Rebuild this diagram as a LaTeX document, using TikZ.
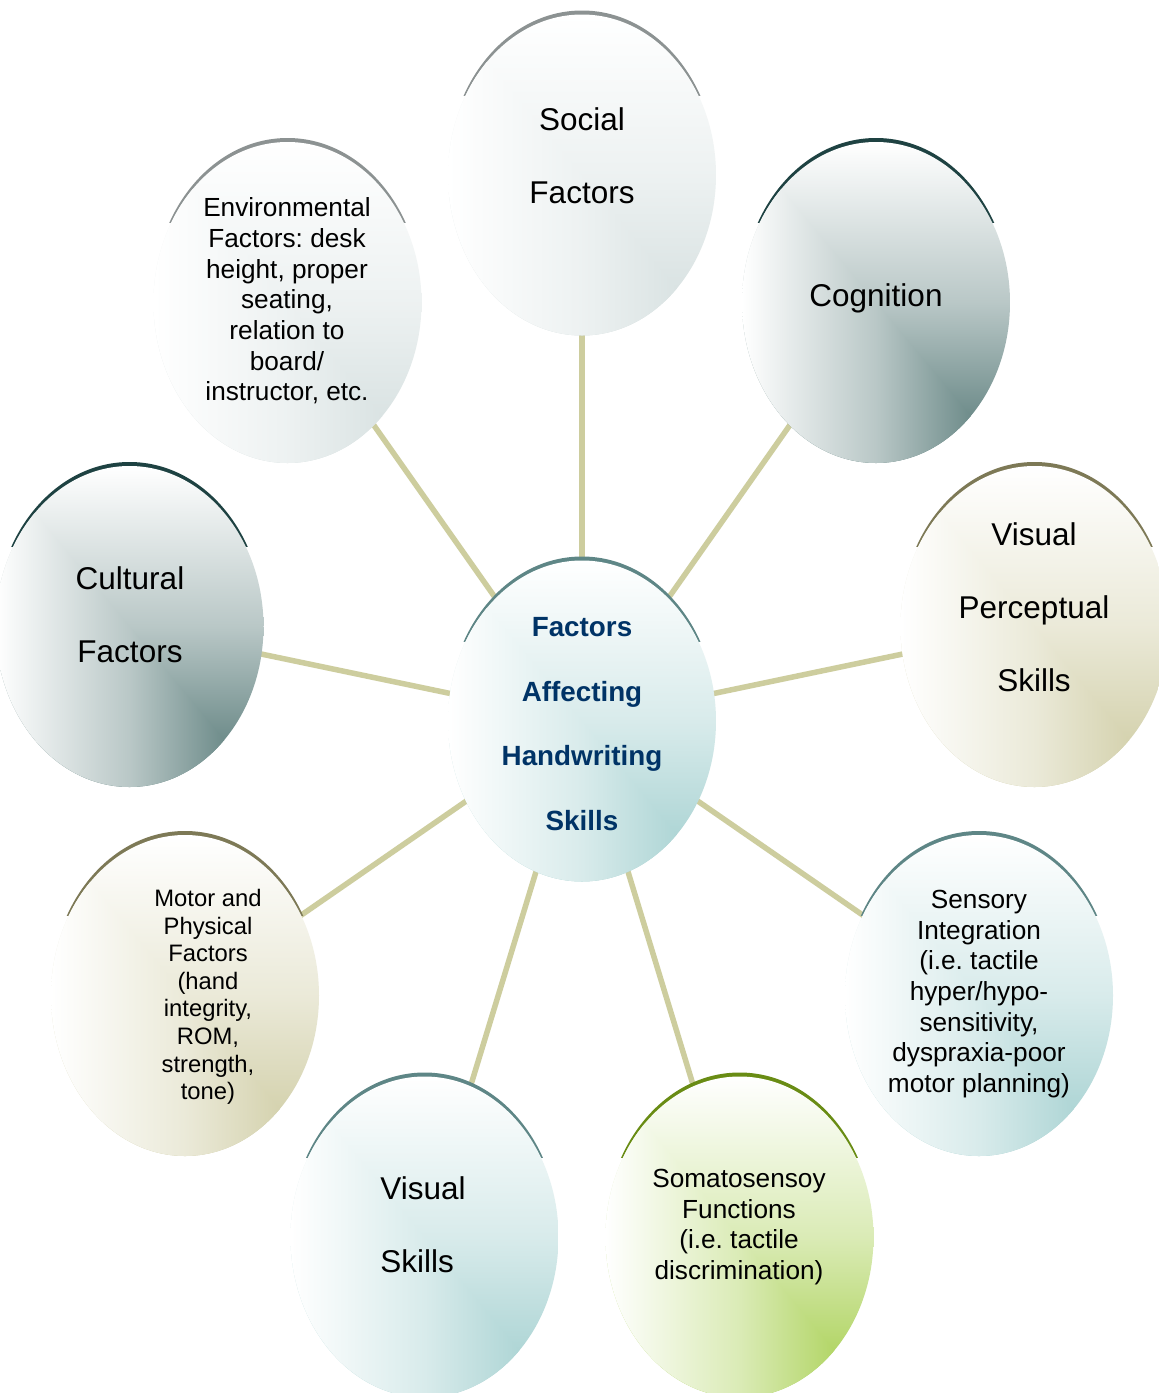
\documentclass[tikz,border=0pt]{standalone}
\usepackage{fontspec}
\setmainfont{Liberation Sans}
\usetikzlibrary{shapes.geometric}
\pgfdeclarelayer{background}
\pgfsetlayers{background,main}
\frenchspacing

\definecolor{fGray}{RGB}{210,221,221}
\definecolor{aGray}{RGB}{140,146,146}
\definecolor{fDark}{RGB}{80,116,114}
\definecolor{aDark}{RGB}{30,66,66}
\definecolor{fKhaki}{RGB}{204,201,158}
\definecolor{aKhaki}{RGB}{125,121,86}
\definecolor{fTeal}{RGB}{158,205,205}
\definecolor{aTeal}{RGB}{94,134,134}
\definecolor{fGreen}{RGB}{163,205,72}
\definecolor{aGreen}{RGB}{105,140,20}
\definecolor{connC}{RGB}{205,205,158}
\definecolor{navyC}{RGB}{0,51,102}

\tikzset{
  blobshape/.style={ellipse, minimum width=134pt, minimum height=160.5pt, inner sep=0pt, outer sep=0pt},
  conn/.style={draw=connC, line width=2.75pt, shorten <=-3pt, shorten >=-3pt},
  txtbig/.style={font=\fontsize{15.75}{36.5}\selectfont, align=center, inner sep=0pt},
  txtmid/.style={font=\fontsize{13.1}{15.35}\selectfont, align=center, inner sep=0pt},
  txtsmall/.style={font=\fontsize{11.9}{13.8}\selectfont, align=center, inner sep=0pt},
  txtcenter/.style={font=\bfseries\fontsize{13.9}{32.2}\selectfont, text=navyC, align=center, inner sep=0pt},
}

% #1 name, #2 cx, #3 cy (pixels, y down), #4 fill colour, #5 rim colour
\newcommand\blob[5]{%
  \begin{scope}
    \clip (#2-140,#3-170) rectangle (#2+140,#3-80);
    \fill[#5] (#2,#3-4) ellipse [x radius=134, y radius=160.5];
  \end{scope}
  \begin{scope}
    \clip (#2,#3) ellipse [x radius=134, y radius=160.5];
    \shade[top color=white, bottom color=#4, middle color=#4!40!white]
      (#2-134,#3-160.5) rectangle (#2+134,#3+160.5);
    \shade[left color=white, right color=#4, middle color=#4!40!white]
      (#2-134,#3-160.5) -- (#2+134,#3+160.5) -- (#2-134,#3+160.5) -- cycle;
  \end{scope}
  \node[blobshape] (#1) at (#2,#3) {};
}

\begin{document}
\begin{tikzpicture}[x=0.5pt, y=-0.5pt]
\useasboundingbox (0,0) rectangle (1159,1393);
\begin{pgfonlayer}{background}
  \fill[white] (0,0) rectangle (1159,1393);
\end{pgfonlayer}
\clip (0,0) rectangle (1159,1393);

\blob{social}{582}{175}{fGray}{aGray}
\blob{cognition}{876}{302.5}{fDark}{aDark}
\blob{environ}{287.5}{302.5}{fGray}{aGray}
\blob{cultural}{129.5}{626.5}{fDark}{aDark}
\blob{visperc}{1034.5}{626.5}{fKhaki}{aKhaki}
\blob{hub}{582}{721}{fTeal}{aTeal}
\blob{motor}{185}{995.5}{fKhaki}{aKhaki}
\blob{sensory}{979}{995.5}{fTeal}{aTeal}
\blob{visskills}{424.5}{1237}{fTeal}{aTeal}
\blob{soma}{739.5}{1237}{fGreen}{aGreen}

\node[txtbig] (socialT) at (582,155.5) {Social\\Factors};
\node[txtbig] (cognitionT) at (876,298.5) {Cognition};
\node[txtmid] (environT) at (287,301) {Environmental\\Factors: desk\\height, proper\\seating,\\relation to\\board/\\instructor, etc.};
\node[txtbig] (culturalT) at (130,614.5) {Cultural\\Factors};
\node[txtbig] (vispercT) at (1034,607.5) {Visual\\Perceptual\\Skills};
\node[txtcenter] (hubT) at (582,724) {Factors\\Affecting\\Handwriting\\Skills};
\node[txtsmall] (motorT) at (208,997) {Motor and\\Physical\\Factors\\(hand\\integrity,\\ROM,\\strength,\\tone)};
\node[txtmid] (sensoryT) at (979,994) {Sensory\\Integration\\(i.e. tactile\\hyper/hypo-\\sensitivity,\\dyspraxia-poor\\motor planning)};
\node[txtbig, align=left, anchor=west] (visskillsT) at (380,1224.5) {Visual\\Skills};
\node[txtmid] (somaT) at (739,1227) {Somatosensoy\\Functions\\(i.e. tactile\\discrimination)};

\begin{pgfonlayer}{background}
  \draw[conn] (hub) -- (social);
  \draw[conn] (hub) -- (cognition);
  \draw[conn] (hub) -- (visperc);
  \draw[conn] (hub) -- (sensory);
  \draw[conn] (hub) -- (soma);
  \draw[conn] (hub) -- (visskills);
  \draw[conn] (hub) -- (motor);
  \draw[conn] (hub) -- (cultural);
  \draw[conn] (hub) -- (environ);
\end{pgfonlayer}
\end{tikzpicture}
\end{document}
